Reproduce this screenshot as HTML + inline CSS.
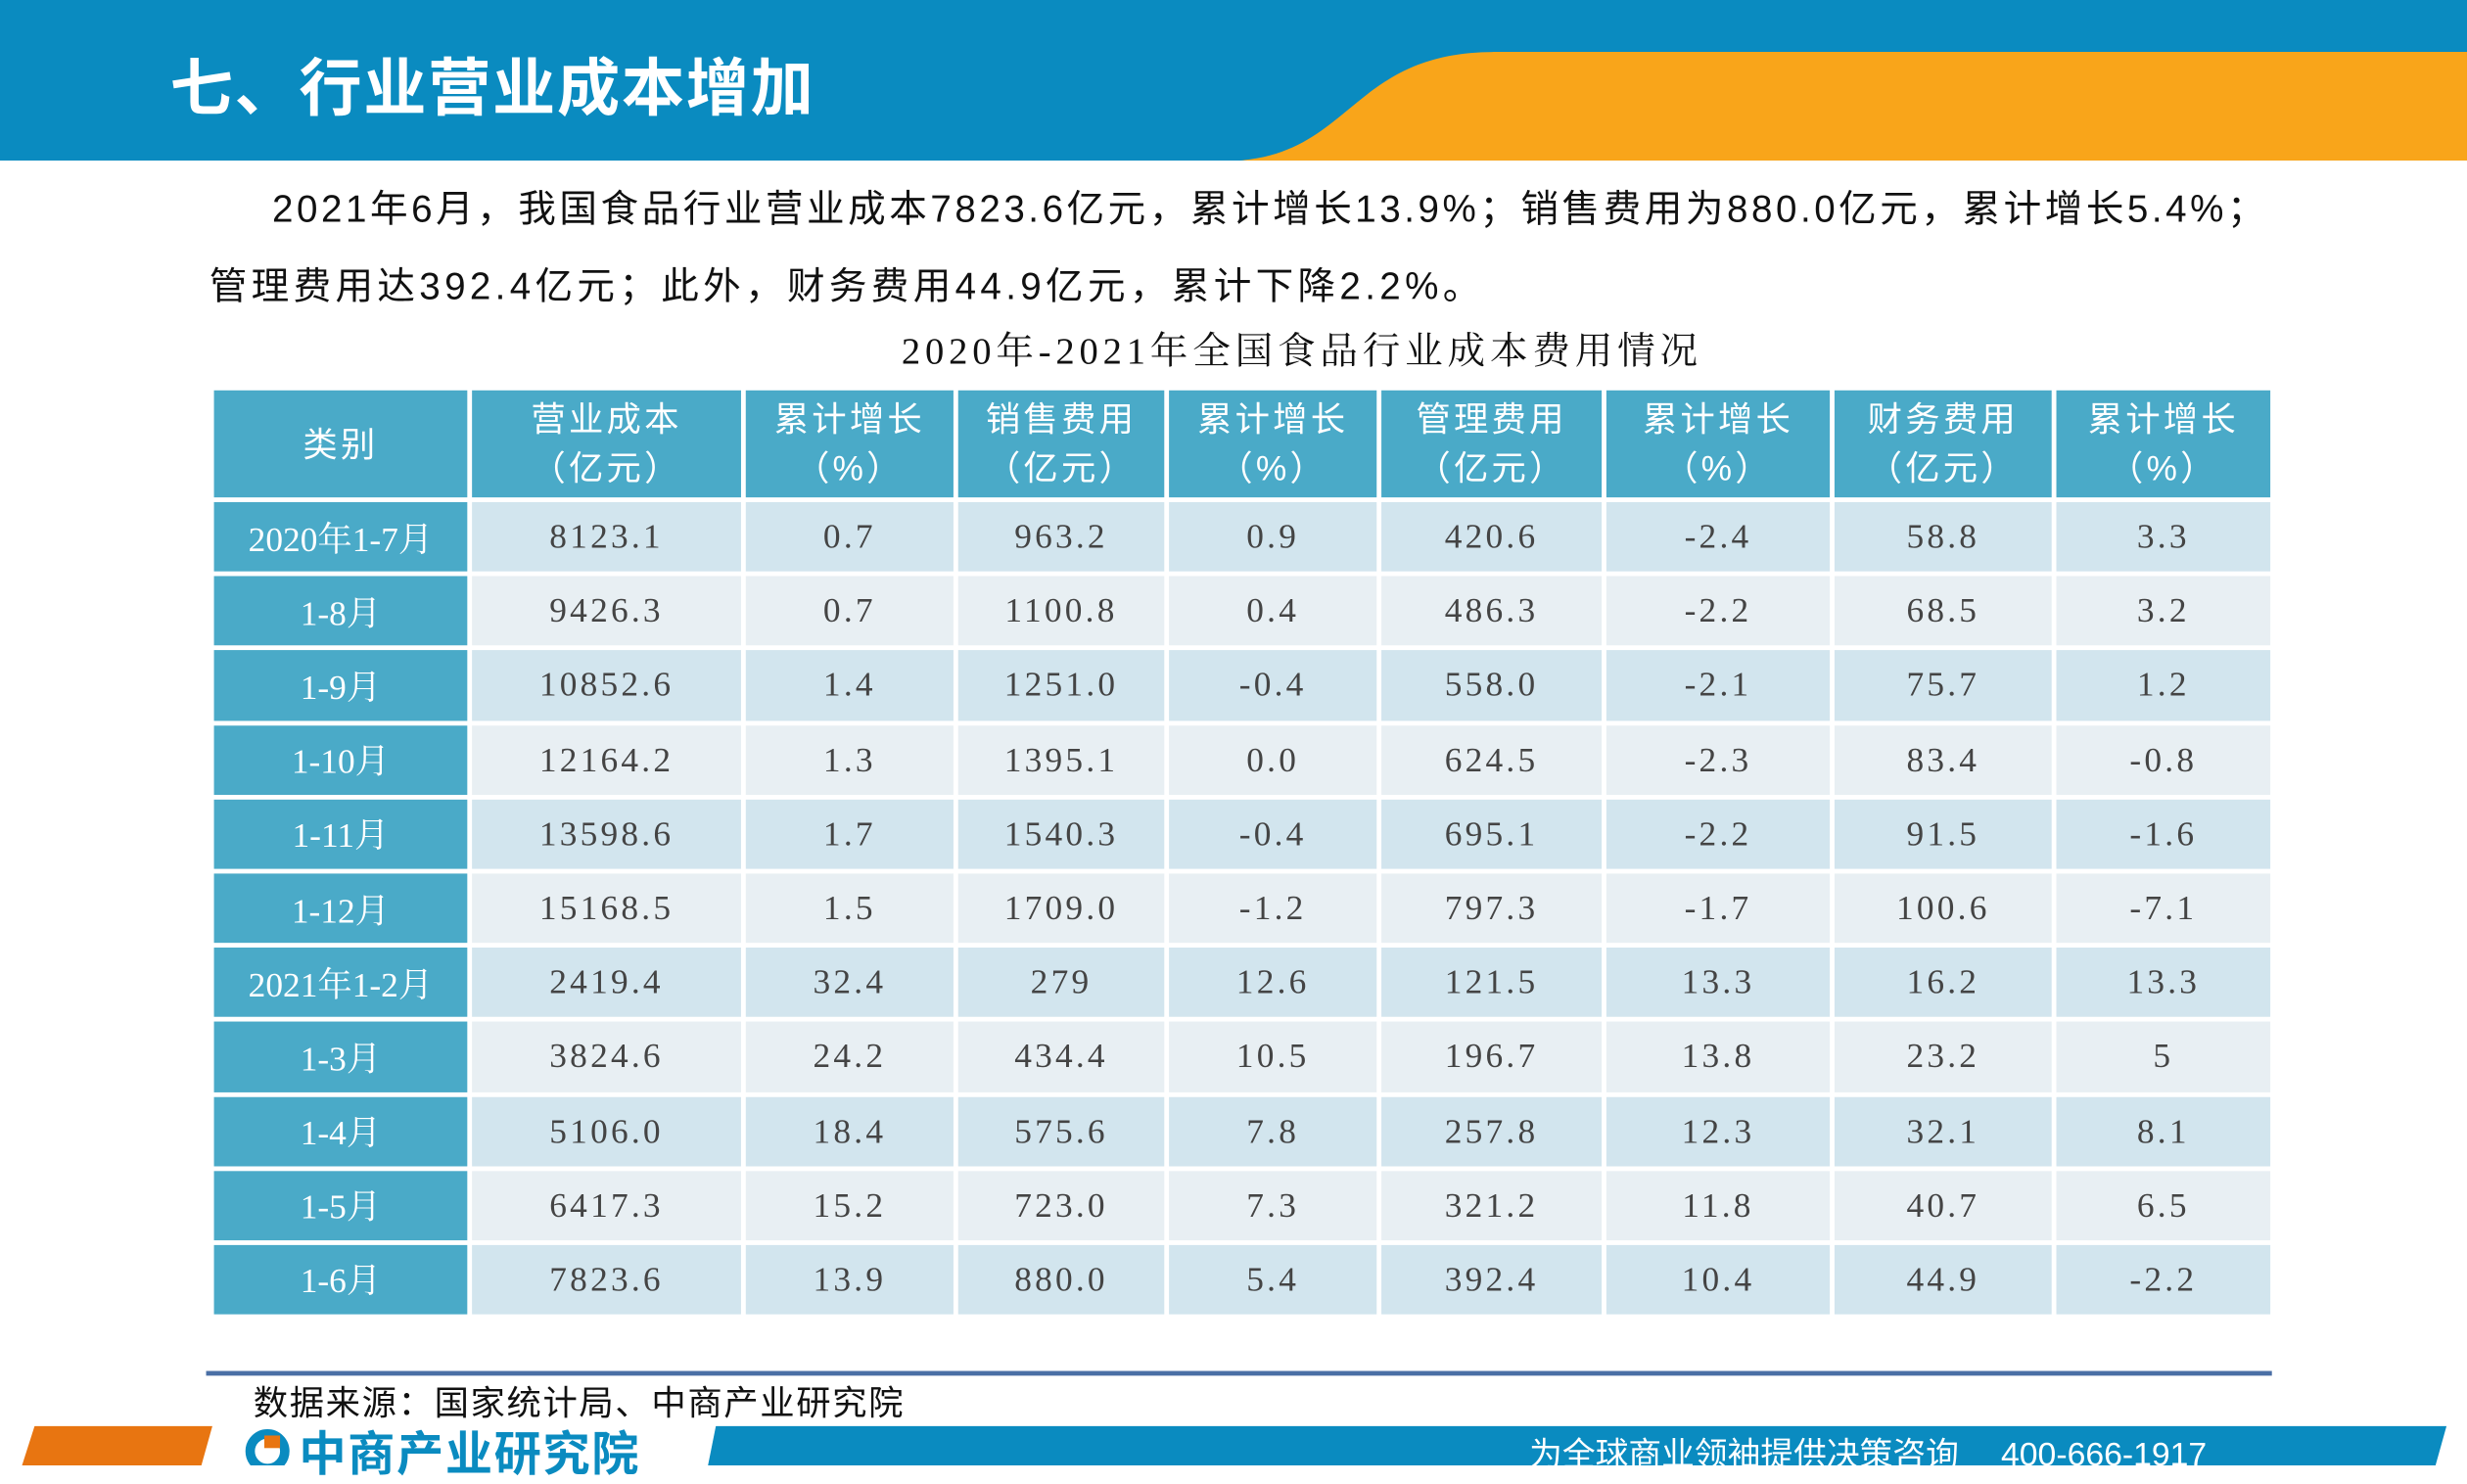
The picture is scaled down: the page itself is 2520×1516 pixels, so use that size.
<!DOCTYPE html>
<html><head><meta charset="utf-8"><style>
html,body{margin:0;padding:0;background:#fff;}
body{width:2520px;height:1497px;overflow:hidden;position:relative;}
#w{position:absolute;left:0;top:0;width:1568px;height:931px;transform:scale(1.60714,1.60795);transform-origin:0 0;font-family:"Liberation Serif","Noto Serif CJK SC",serif;}
.hd{position:absolute;left:0;top:0;width:1568px;height:102px;background:#0a8bc0;}
.t{position:absolute;left:108px;top:24px;color:#fff;font:bold 40px "Liberation Sans","Noto Sans CJK SC",sans-serif;letter-spacing:1px;}
.p{position:absolute;font:24px "Liberation Sans","Noto Sans CJK SC",sans-serif;color:#111;white-space:nowrap;}
table{position:absolute;left:133px;top:245px;border-collapse:separate;border-spacing:3px;font-size:22px;color:#444;table-layout:fixed;width:1313px;letter-spacing:2px;}
td{text-align:center;padding:0;height:44.2px;overflow:hidden;white-space:nowrap;}
th{background:#4aaac8;color:#fff;font-weight:normal;font:22px "Liberation Sans","Noto Sans CJK SC",sans-serif;height:68px;line-height:31px;padding:0;overflow:hidden;white-space:nowrap;}
td.f{background:#4aaac8;color:#fff;letter-spacing:0;}
tr.a td{background:#d2e5ee;}tr.b td{background:#e8eff3;}
tr.a td.f,tr.b td.f{background:#4aaac8;}
</style></head><body><div id="w">
<div class="hd"></div>
<svg style="position:absolute;left:0;top:0" width="1568" height="102"><path d="M788 102 C860 96 860 33 950 33 L1568 33 L1568 102 Z" fill="#f9a51a"/></svg>
<div class="t">七、行业营业成本增加</div>
<div class="p" style="left:173px;top:113px;letter-spacing:2.2px">2021年6月，我国食品行业营业成本7823.6亿元，累计增长13.9%；销售费用为880.0亿元，累计增长5.4%；</div>
<div class="p" style="left:133px;top:162px;letter-spacing:2.7px">管理费用达392.4亿元；此外，财务费用44.9亿元，累计下降2.2%。</div>
<div class="p" style="left:573px;top:203px;font-family:'Liberation Serif','Noto Serif CJK SC',serif;letter-spacing:3px">2020年-2021年全国食品行业成本费用情况</div>
<table>
<colgroup><col style="width:161px"><col style="width:171px"><col style="width:132px"><col style="width:131px"><col style="width:132px"><col style="width:140px"><col style="width:142px"><col style="width:138px"><col style="width:136px"></colgroup>
<tr><th>类别</th><th>营业成本<br>（亿元）</th><th>累计增长<br>（%）</th><th>销售费用<br>（亿元）</th><th>累计增长<br>（%）</th><th>管理费用<br>（亿元）</th><th>累计增长<br>（%）</th><th>财务费用<br>（亿元）</th><th>累计增长<br>（%）</th></tr>
<tr class="a"><td class="f">2020年1-7月</td><td>8123.1</td><td>0.7</td><td>963.2</td><td>0.9</td><td>420.6</td><td>-2.4</td><td>58.8</td><td>3.3</td></tr>
<tr class="b"><td class="f">1-8月</td><td>9426.3</td><td>0.7</td><td>1100.8</td><td>0.4</td><td>486.3</td><td>-2.2</td><td>68.5</td><td>3.2</td></tr>
<tr class="a"><td class="f">1-9月</td><td>10852.6</td><td>1.4</td><td>1251.0</td><td>-0.4</td><td>558.0</td><td>-2.1</td><td>75.7</td><td>1.2</td></tr>
<tr class="b"><td class="f">1-10月</td><td>12164.2</td><td>1.3</td><td>1395.1</td><td>0.0</td><td>624.5</td><td>-2.3</td><td>83.4</td><td>-0.8</td></tr>
<tr class="a"><td class="f">1-11月</td><td>13598.6</td><td>1.7</td><td>1540.3</td><td>-0.4</td><td>695.1</td><td>-2.2</td><td>91.5</td><td>-1.6</td></tr>
<tr class="b"><td class="f">1-12月</td><td>15168.5</td><td>1.5</td><td>1709.0</td><td>-1.2</td><td>797.3</td><td>-1.7</td><td>100.6</td><td>-7.1</td></tr>
<tr class="a"><td class="f">2021年1-2月</td><td>2419.4</td><td>32.4</td><td>279</td><td>12.6</td><td>121.5</td><td>13.3</td><td>16.2</td><td>13.3</td></tr>
<tr class="b"><td class="f">1-3月</td><td>3824.6</td><td>24.2</td><td>434.4</td><td>10.5</td><td>196.7</td><td>13.8</td><td>23.2</td><td>5</td></tr>
<tr class="a"><td class="f">1-4月</td><td>5106.0</td><td>18.4</td><td>575.6</td><td>7.8</td><td>257.8</td><td>12.3</td><td>32.1</td><td>8.1</td></tr>
<tr class="b"><td class="f">1-5月</td><td>6417.3</td><td>15.2</td><td>723.0</td><td>7.3</td><td>321.2</td><td>11.8</td><td>40.7</td><td>6.5</td></tr>
<tr class="a"><td class="f">1-6月</td><td>7823.6</td><td>13.9</td><td>880.0</td><td>5.4</td><td>392.4</td><td>10.4</td><td>44.9</td><td>-2.2</td></tr>
</table>
<div style="position:absolute;left:131px;top:871px;width:1313px;height:3px;background:#4a6fa5"></div>
<div class="p" style="left:161px;top:874px;font-size:22px;letter-spacing:1px">数据来源：国家统计局、中商产业研究院</div>
<svg style="position:absolute;left:0;top:906px" width="1568" height="25"><polygon points="22,0 135,0 128,25 14,25" fill="#e87511"/><polygon points="455,0 1555,0 1548,25 450,25" fill="#0a8bc0"/><circle cx="170" cy="16" r="11" fill="none" stroke="#0a8bc0" stroke-width="6"/><rect x="168" y="6" width="10" height="8" fill="#e87511"/></svg>
<div class="p" style="left:190px;top:899px;font:bold 30px 'Liberation Sans','Noto Sans CJK SC',sans-serif;color:#0a8bc0;letter-spacing:1px">中商产业研究院</div>
<div class="p" style="left:972px;top:908px;font-size:21px;color:#fff">为全球商业领袖提供决策咨询　 400-666-1917</div>
</div></body></html>
